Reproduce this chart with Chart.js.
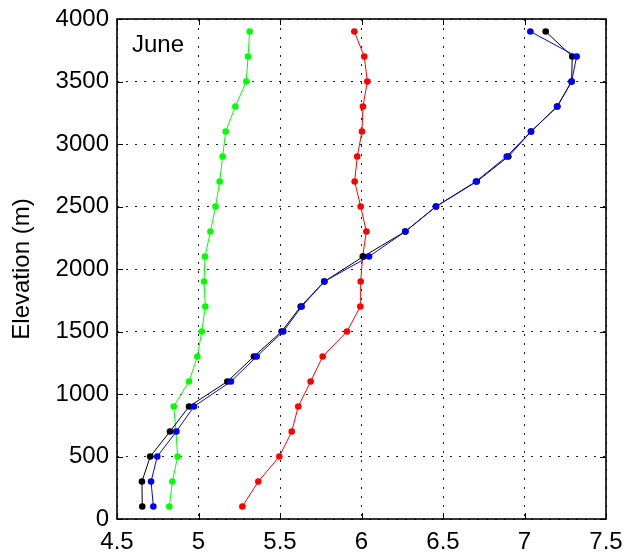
<!DOCTYPE html>
<html>
<head>
<meta charset="utf-8">
<script src="https://cdn.jsdelivr.net/npm/chart.js@4/dist/chart.umd.min.js"></script>
<style>
html,body{margin:0;padding:0;background:#fff;}
#wrap{width:628px;height:554px;position:relative;}
</style>
</head>
<body>
<div id="wrap"><canvas id="c" width="628" height="554"></canvas></div>
<script>
const elevations = [100,300,500,700,900,1100,1300,1500,1700,1900,2100,2300,2500,2700,2900,3100,3300,3500,3700,3900];
const greenSeries = [4.821,4.840,4.872,4.862,4.848,4.942,4.993,5.020,5.042,5.034,5.040,5.073,5.105,5.130,5.148,5.167,5.226,5.293,5.304,5.314];
const redSeries = [5.269,5.367,5.496,5.572,5.612,5.688,5.762,5.911,5.993,5.995,6.007,6.030,5.995,5.958,5.974,6.003,6.009,6.036,6.017,5.956];
const blueSeries = [4.723,4.709,4.747,4.864,4.972,5.199,5.357,5.520,5.633,5.772,6.046,6.269,6.457,6.702,6.891,7.040,7.202,7.289,7.320,7.036];
const blackSeries = [4.655,4.653,4.704,4.825,4.942,5.177,5.340,5.510,5.627,5.772,6.011,6.269,6.457,6.707,6.901,7.040,7.200,7.289,7.293,7.130];
const xTicks = [4.5,5,5.5,6,6.5,7,7.5];
const yTicks = [0,500,1000,1500,2000,2500,3000,3500,4000];
const panelLabel = 'June';
const yTitle = 'Elevation (m)';

const FONT = "'Liberation Sans', Arial, Helvetica, sans-serif";

function pts(xs){ return xs.map((v,i)=>({x:v, y:elevations[i]})); }
function ds(data, color){
  return {data: pts(data), borderColor: color, backgroundColor: color,
    borderWidth: 1, pointRadius: 3.3, pointHoverRadius: 3.3, pointBorderWidth: 0,
    tension: 0, fill: false, showLine: true};
}

const frame = {
  id: 'frame',
  afterDraw(chart){
    const {ctx, chartArea: a, scales} = chart;
    ctx.save();
    ctx.strokeStyle = '#000';
    ctx.lineWidth = 1;
    const tl = 6;
    ctx.beginPath();
    xTicks.forEach(v=>{
      const px = Math.round(scales.x.getPixelForValue(v)) + 0.5;
      ctx.moveTo(px, a.bottom); ctx.lineTo(px, a.bottom - tl);
      ctx.moveTo(px, a.top); ctx.lineTo(px, a.top + tl);
    });
    yTicks.forEach(v=>{
      const py = Math.round(scales.y.getPixelForValue(v)) + 0.5;
      ctx.moveTo(a.left, py); ctx.lineTo(a.left + tl, py);
      ctx.moveTo(a.right, py); ctx.lineTo(a.right - tl, py);
    });
    ctx.stroke();
    ctx.lineWidth = 1.6;
    ctx.strokeRect(a.left, a.top, a.right - a.left, a.bottom - a.top);
    ctx.fillStyle = '#000';
    ctx.font = '24px ' + FONT;
    ctx.textBaseline = 'alphabetic';
    ctx.textAlign = 'left';
    ctx.fillText(panelLabel, a.left + 15, a.top + 33);
    ctx.restore();
  }
};

new Chart(document.getElementById('c'), {
  type: 'line',
  data: {
    datasets: [
      ds(blueSeries, '#0000ff'),
      ds(blackSeries, '#000000'),
      ds(redSeries, '#ff0000'),
      ds(greenSeries, '#00ff00')
    ]
  },
  options: {
    responsive: false,
    animation: false,
    devicePixelRatio: 1,
    layout: {padding: {left: 0, right: 22, top: 19, bottom: 0}},
    plugins: {legend: {display: false}, tooltip: {enabled: false}},
    scales: {
      x: {
        type: 'linear', min: 4.5, max: 7.5,
        afterBuildTicks(s){ s.ticks = xTicks.map(v=>({value:v})); },
        afterFit(s){ s.height = 35; s.paddingRight = 0; s.paddingLeft = 0; },
        border: {display: false, dash: [2,7]},
        grid: {color: '#222', lineWidth: 1, drawTicks: false},
        ticks: {color: '#000', font: {family: FONT, size: 24}, padding: 9, maxRotation: 0, autoSkip: false,
          callback: v => String(v)}
      },
      y: {
        type: 'linear', min: 0, max: 4000,
        afterBuildTicks(s){ s.ticks = yTicks.map(v=>({value:v})); },
        afterFit(s){ s.width = 117; s.paddingTop = 0; s.paddingBottom = 0; },
        border: {display: false, dash: [2,7]},
        grid: {color: '#222', lineWidth: 1, drawTicks: false},
        ticks: {color: '#000', font: {family: FONT, size: 24}, padding: 8, autoSkip: false,
          callback: v => String(v)},
        title: {display: true, text: yTitle, color: '#000', font: {family: FONT, size: 24}, padding: {top: 8, bottom: 0}}
      }
    }
  },
  plugins: [frame]
});
</script>
</body>
</html>
